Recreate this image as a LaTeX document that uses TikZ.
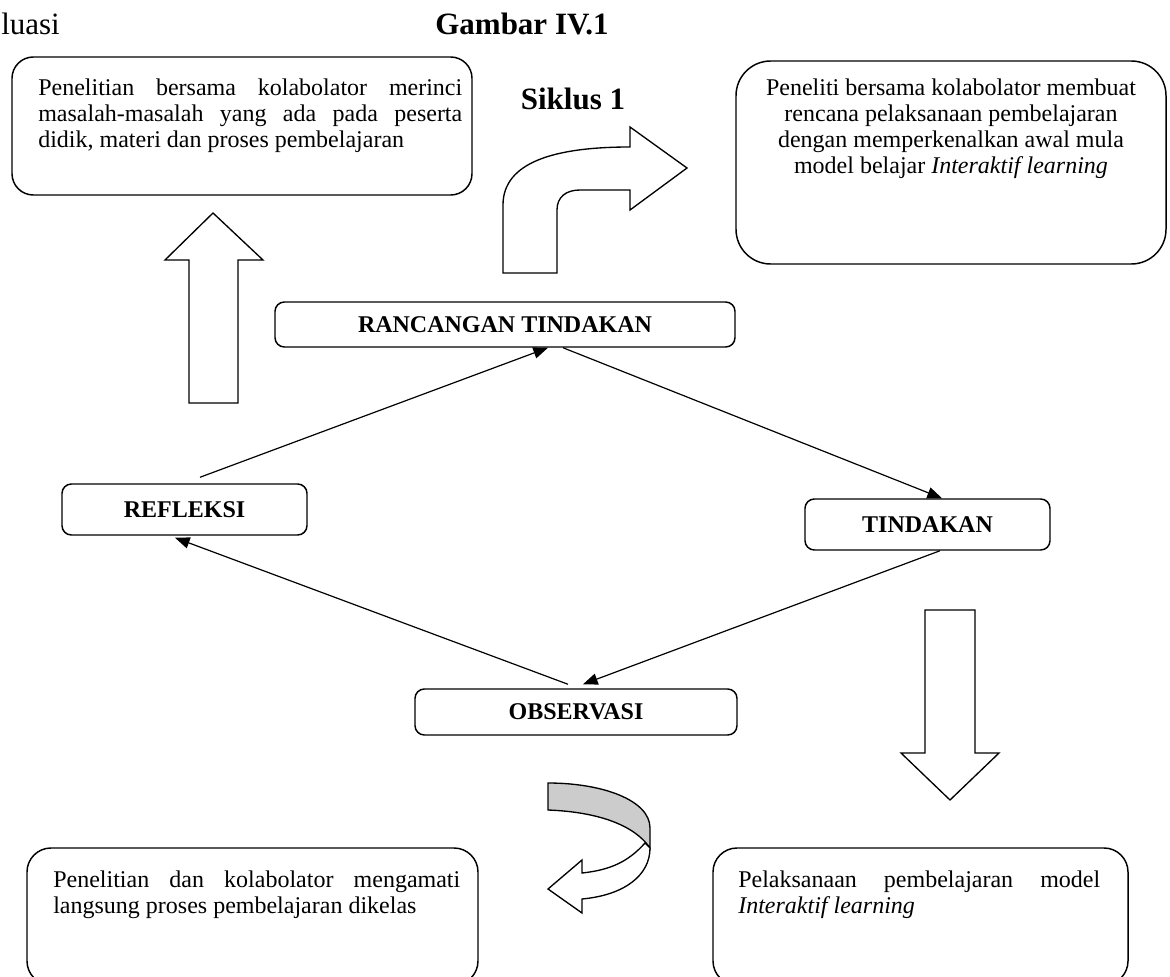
\documentclass[tikz,border=0pt]{standalone}
\usepackage{fontspec}
\setmainfont{Liberation Serif}
\usetikzlibrary{calc,arrows.meta}
\newcommand\jline[2]{\makebox[#1][s]{#2}}
\begin{document}
\begin{tikzpicture}[x=0.75pt,y=-0.75pt,
  rbox/.style={draw,line width=1.1pt,rounded corners=#1,inner sep=0pt},
  lbl/.style={rbox=7pt,font=\fontsize{18}{22}\selectfont\bfseries},
  body/.style={inner sep=0pt,font=\fontsize{18}{19.6}\selectfont},
  conn/.style={line width=0.9pt,-{Triangle[length=11pt,width=8.5pt]}},
  blk/.style={draw,line width=1pt,line join=miter,fill=white},
  big/.style={inner sep=0pt,font=\fontsize{23.25}{28}\selectfont}]
\useasboundingbox (0,0) rectangle (1170,977);
\clip (0,0) rectangle (1170,977);

% top texts
\node[big, anchor=base west] (evl) at (1,35) {luasi};
\node[big, anchor=base] (gmb) at (522,35) {\textbf{Gambar IV.1}};
\node[big, anchor=base] (sik) at (573,110) {\textbf{Siklus 1}};

% description boxes
\node[rbox=16pt, minimum width=345pt, minimum height=103.5pt] (tl) at (242,126) {};
\node[body, anchor=north west, align=left] (tltext) at (38,78.6)
  {\jline{318pt}{Penelitian bersama kolabolator merinci}\\
   \jline{318pt}{masalah-masalah yang ada pada peserta}\\
   didik, materi dan proses pembelajaran};

\node[rbox=26pt, minimum width=322.5pt, minimum height=152.25pt] (tr) at (951,162.5) {};
\node[body, anchor=north, align=center] (trtext) at (951,78.6)
  {Peneliti bersama kolabolator membuat\\
   rencana pelaksanaan pembelajaran\\
   dengan memperkenalkan awal mula\\
   model belajar \textit{Interaktif learning}};

\node[rbox=18pt, minimum width=338.25pt, minimum height=102.75pt] (bl) at (252.5,916.5) {};
\node[body, anchor=north west, align=left] (bltext) at (53,870.6)
  {\jline{305.25pt}{Penelitian dan kolabolator mengamati}\\
   langsung proses pembelajaran dikelas};

\node[rbox=18pt, minimum width=311.25pt, minimum height=102.75pt] (br) at (920.5,916.5) {};
\node[body, anchor=north west, align=left] (brtext) at (738,870.6)
  {\jline{271.5pt}{Pelaksanaan pembelajaran model}\\
   \textit{Interaktif learning}};

% cycle nodes
\node[lbl, minimum width=345pt, minimum height=33.75pt] (ranc) at (505,324.5) {RANCANGAN TINDAKAN};
\node[lbl, minimum width=183.75pt, minimum height=38.25pt] (refl) at (184.5,509.5) {REFLEKSI};
\node[lbl, minimum width=183.75pt, minimum height=38.25pt] (tind) at (927.5,524.5) {TINDAKAN};
\node[lbl, minimum width=241.5pt, minimum height=34.5pt] (obs) at (576,712) {OBSERVASI};

% connectors
\draw[conn] ($(refl.north)+(15.5,-6)$) -- ($(ranc.south)+(43,0)$);
\draw[conn] ($(ranc.south)+(58,0)$) -- ($(tind.north)+(14.5,0)$);
\draw[conn] ($(tind.south)+(12.5,0)$) -- ($(obs.north)+(7,-4)$);
\draw[conn] ($(obs.north)+(-8,-4)$) -- ($(refl.south)+(-9.5,2)$);

% block arrows
\draw[blk] (189,403) -- (189,260) -- (165,260) -- (213,213) -- (263,260) -- (238,260) -- (238,403) -- cycle;
\draw[blk] (925,610) -- (975,610) -- (975,753) -- (999,753) -- (950,800) -- (901,753) -- (925,753) -- cycle;
\draw[blk] (503,273) -- (503,205) .. controls (503,162) and (555,147) .. (630,147) -- (630,127) -- (687,168) -- (630,210) -- (630,190) -- (580,190) .. controls (566,190) and (557,197) .. (557,210) -- (557,273) -- cycle;

% curved arrow
\draw[blk, fill=gray!40] (548,783) .. controls (602,783) and (650,800) .. (650,828) -- (650,848) .. controls (635,826) and (600,812) .. (548,810) -- cycle;
\draw[blk] (645,843) .. controls (628,862) and (610,870) .. (582,873) -- (582,860) -- (548,889) -- (582,913) -- (582,899) .. controls (625,895) and (650,875) .. (650,848) -- cycle;
\end{tikzpicture}
\end{document}
